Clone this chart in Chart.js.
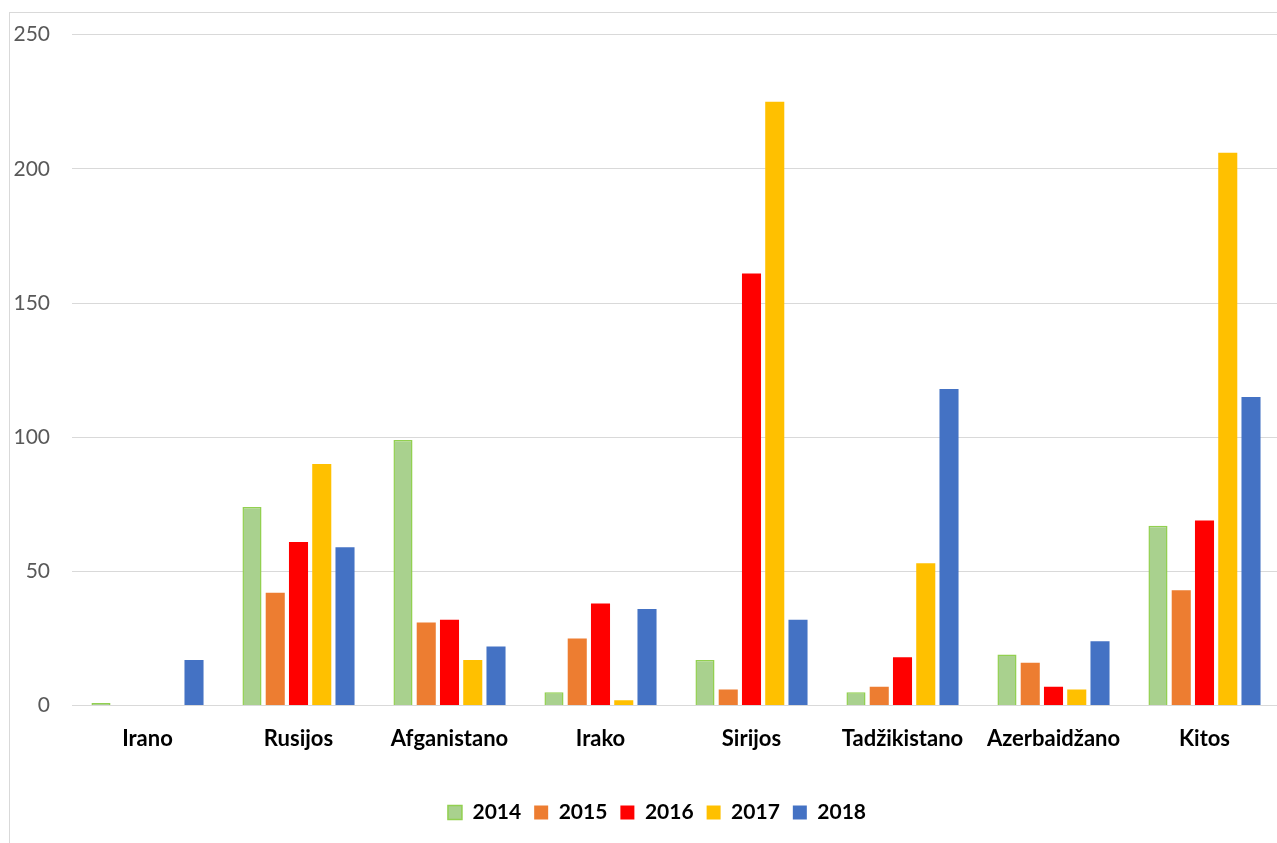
<!DOCTYPE html>
<html>
<head>
<meta charset="utf-8">
<script src="https://cdn.jsdelivr.net/npm/chart.js@4.4.1/dist/chart.umd.min.js"></script>
<style>
  html, body { margin: 0; padding: 0; background: #fff; overflow: hidden; }
  #frame { position: absolute; left: 9px; top: 12px; width: 1400px; height: 900px;
           border-left: 1px solid #d9d9d9; border-top: 1px solid #d9d9d9; }
  #wrap { position: absolute; left: 0; top: 0; width: 1310px; height: 843px; }
</style>
</head>
<body>
<div id="frame"></div>
<div id="wrap"><canvas id="myChart"></canvas></div>
<script>
// Countries along the x-axis
var countries = ["Irano", "Rusijos", "Afganistano", "Irako", "Sirijos", "Tadžikistano", "Azerbaidžano", "Kitos"];
// Values per year
var y2014 = [1, 74, 99, 5, 17, 5, 19, 67];
var y2015 = [0, 42, 31, 25, 6, 7, 16, 43];
var y2016 = [0, 61, 32, 38, 161, 18, 7, 69];
var y2017 = [0, 90, 17, 2, 225, 53, 6, 206];
var y2018 = [17, 59, 22, 36, 32, 118, 24, 115];
var yTicks = [0, 50, 100, 150, 200, 250];

// nudge the legend a little to the right, like the original
var legendShift = {
  id: "legendShift",
  afterLayout: function (chart) {
    chart.legend.left += 17;
    chart.legend.right += 17;
  }
};

var ctx = document.getElementById("myChart");
var myChart = new Chart(ctx, {
  type: 'bar',
  data: {
    labels: countries,
    datasets: [
      { label: "2014", data: y2014, backgroundColor: "#a9d18e", borderColor: "#92d050", borderWidth: 1.5 },
      { label: "2015", data: y2015, backgroundColor: "#ed7d31", borderWidth: 0 },
      { label: "2016", data: y2016, backgroundColor: "#ff0000", borderWidth: 0 },
      { label: "2017", data: y2017, backgroundColor: "#ffc000", borderWidth: 0 },
      { label: "2018", data: y2018, backgroundColor: "#4472c4", borderWidth: 0 }
    ]
  },
  plugins: [legendShift],
  options: {
    responsive: true,
    maintainAspectRatio: false,
    animation: false,
    devicePixelRatio: 1,
    layout: { padding: { top: 24, right: 30, bottom: 10, left: 0 } },
    datasets: { bar: { categoryPercentage: 0.77, barPercentage: 0.82 } },
    scales: {
      x: {
        grid: { display: false },
        border: { display: false },
        afterFit: function (s) { s.height += 25; },
        ticks: { color: "#000", font: { family: "Lato", size: 22, weight: "bold" }, padding: 12, maxRotation: 0 }
      },
      y: {
        min: 0, max: 250,
        afterBuildTicks: function (s) { s.ticks = yTicks.map(function (v) { return { value: v }; }); },
        afterFit: function (s) { s.width = 72; },
        grid: { color: "#d9d9d9", lineWidth: 1, drawTicks: false },
        border: { display: false },
        ticks: { color: "#595959", font: { family: "Lato", size: 21 }, padding: 22 }
      }
    },
    plugins: {
      tooltip: { enabled: false },
      legend: {
        position: "bottom",
        labels: {
          color: "#000",
          font: { family: "Lato", size: 21, weight: "bold" },
          boxWidth: 14, boxHeight: 14, padding: 13
        }
      }
    }
  }
});
</script>
</body>
</html>
